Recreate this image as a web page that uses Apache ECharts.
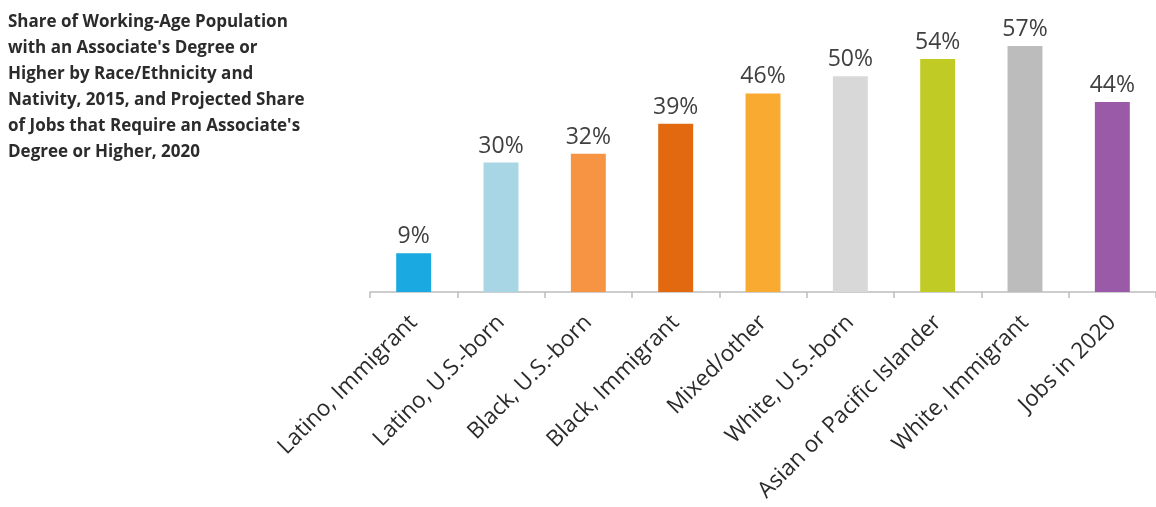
<!DOCTYPE html>
<html>
<head>
<meta charset="utf-8">
<script src="https://cdn.jsdelivr.net/npm/echarts@6/dist/echarts.min.js"></script>
<style>
  html, body { margin: 0; padding: 0; background: #fff; }
  #chart { width: 1156px; height: 507px; }
</style>
</head>
<body>
<div id="chart"></div>
<script>
// categories and values
const categories = ['Latino, Immigrant', 'Latino, U.S.-born', 'Black, U.S.-born', 'Black, Immigrant',
  'Mixed/other', 'White, U.S.-born', 'Asian or Pacific Islander', 'White, Immigrant', 'Jobs in 2020']
const shares = [9, 30, 32, 39, 46, 50, 54, 57, 44]
const barColors = ['#1ba9e2', '#a9d6e4', '#f79444', '#e2690f', '#f9aa30', '#d8d8d8', '#c0cb25', '#bcbcbc', '#9a5aa8']

const titleText = 'Share of Working-Age Population\nwith an Associate\'s Degree or\nHigher by Race/Ethnicity and\nNativity, 2015, and Projected Share\nof Jobs that Require an Associate\'s\nDegree or Higher, 2020'

let myChart = echarts.init(document.getElementById('chart'))
myChart.setOption({
  animation: false,
  title: {
    text: titleText,
    left: 3,
    top: 4,
    textStyle: {
      fontFamily: 'Open Sans',
      fontSize: 17,
      fontWeight: 'bold',
      lineHeight: 26,
      color: '#2b2b2b'
    }
  },
  grid: {
    left: 370,
    top: 33,
    width: 792,
    height: 259
  },
  xAxis: {
    type: 'category',
    data: categories,
    axisLine: {
      lineStyle: { color: '#bdbdbd', width: 1.5 }
    },
    axisTick: {
      show: true,
      length: 6,
      lineStyle: { color: '#bdbdbd', width: 1.5 }
    },
    axisLabel: {
      rotate: 45,
      interval: 0,
      margin: 27,
      fontFamily: 'Open Sans',
      fontSize: 22.5,
      color: '#2b2b2b'
    }
  },
  yAxis: {
    type: 'value',
    min: 0,
    max: 60,
    show: false
  },
  series: [{
    type: 'bar',
    barWidth: '40%',
    data: shares.map((v, i) => ({ value: v, itemStyle: { color: barColors[i] } })),
    label: {
      show: true,
      position: 'top',
      distance: 5,
      formatter: '{c}%',
      fontFamily: 'Open Sans',
      fontSize: 23,
      color: '#404040'
    }
  }]
})
</script>
</body>
</html>
